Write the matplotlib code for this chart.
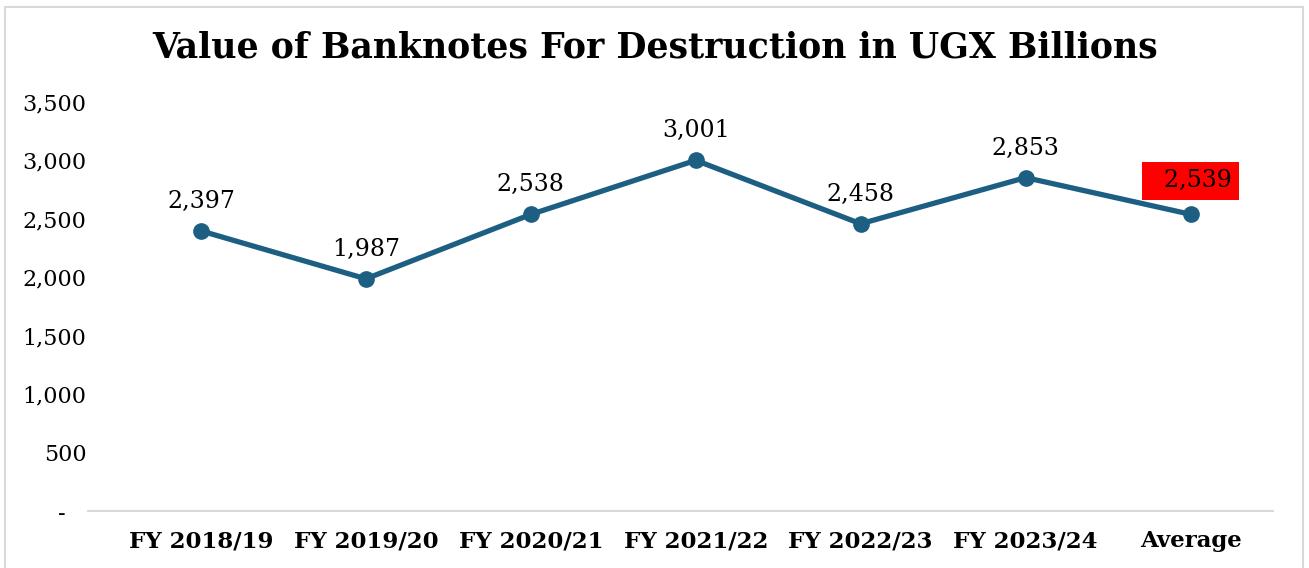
import matplotlib.pyplot as plt
from matplotlib.patches import Rectangle

# Data
categories = ['FY 2018/19', 'FY 2019/20', 'FY 2020/21', 'FY 2021/22',
              'FY 2022/23', 'FY 2023/24', 'Average']
values = [2397, 1987, 2538, 3001, 2458, 2853, 2539]
y_ticks = [0, 500, 1000, 1500, 2000, 2500, 3000, 3500]
y_tick_labels = ['-   ', '500', '1,000', '1,500', '2,000', '2,500', '3,000', '3,500']

line_color = '#1c5f82'
serif = 'DejaVu Serif'

fig = plt.figure(figsize=(13.09, 5.68), dpi=100)
ax = fig.add_axes([88 / 1309, 1 - 511 / 568, (1273 - 88) / 1309, (511 - 102) / 568])

x = list(range(len(categories)))
ax.plot(x, values, color=line_color, linewidth=3.8, marker='o', markersize=11)

# data labels
for i, v in enumerate(values):
    if categories[i] == 'Average':
        ax.annotate(f'  {v:,}', (i, v), xytext=(0, 24), textcoords='offset points',
                    ha='center', va='center', fontsize=17, family=serif,
                    bbox=dict(boxstyle='square,pad=0.3', fc='red', ec='none'))
    else:
        ax.annotate(f'{v:,}', (i, v), xytext=(0, 13), textcoords='offset points',
                    ha='center', va='bottom', fontsize=17, family=serif)

ax.set_xlim(-0.685, 6.5)
ax.set_ylim(0, 3500)
ax.set_xticks(x)
ax.set_xticklabels(categories, fontsize=16.5, fontweight='bold', family=serif)
ax.set_yticks(y_ticks)
ax.set_yticklabels(y_tick_labels, fontsize=16, family=serif)
ax.tick_params(axis='both', length=0)
ax.tick_params(axis='x', pad=14)
ax.tick_params(axis='y', pad=1)

for s in ['top', 'right', 'left']:
    ax.spines[s].set_visible(False)
ax.spines['bottom'].set_color('#d9d9d9')
ax.spines['bottom'].set_linewidth(1.5)

fig.text(655 / 1309, 1 - 48 / 568, 'Value of Banknotes For Destruction in UGX Billions',
         ha='center', va='center', fontsize=25, fontweight='bold', family=serif)

# outer chart border (bottom edge sits below the image)
fig.patches.append(Rectangle((5 / 1309, -0.05), 1298 / 1309, 1.05 - 7 / 568,
                             transform=fig.transFigure, fill=False,
                             edgecolor='#d9d9d9', linewidth=1.5))

fig.savefig('out.png', dpi=100)
